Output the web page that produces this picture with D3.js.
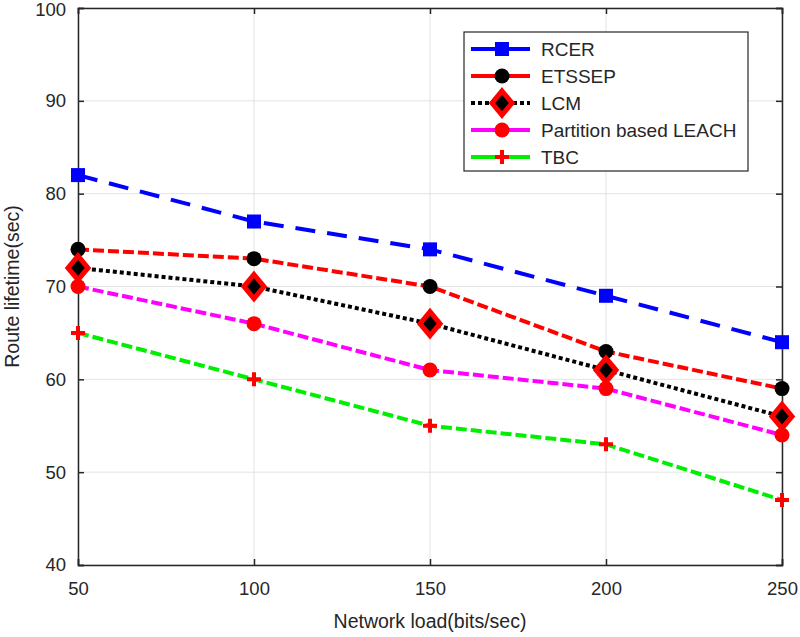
<!DOCTYPE html>
<html>
<head>
<meta charset="utf-8">
<script src="https://cdn.jsdelivr.net/npm/d3@7"></script>
<style>
  body { margin: 0; background: #fff; }
  svg text { font-family: "Liberation Sans", Arial, sans-serif; fill: #262626; }
</style>
</head>
<body>
<svg id="chart" width="800" height="637"></svg>
<script>
var loads = [50, 100, 150, 200, 250]
var x_ticks = [50, 100, 150, 200, 250]
var y_ticks = [40, 50, 60, 70, 80, 90, 100]

var rcer      = [82, 77, 74, 69, 64]
var etssep    = [74, 73, 70, 63, 59]
var lcm       = [72, 70, 66, 61, 56]
var partition = [70, 66, 61, 59, 54]
var tbc       = [65, 60, 55, 53, 47]

var series_names = ["RCER", "ETSSEP", "LCM", "Partition based LEACH", "TBC"]

var series = [
	{name: series_names[0], values: rcer,      color: "#0000ff", dash: "20,12", marker: "square",  mfill: "#0000ff"},
	{name: series_names[1], values: etssep,    color: "#ff0000", dash: "11,4",  marker: "circle",  mfill: "#000000"},
	{name: series_names[2], values: lcm,       color: "#000000", dash: "4,3",   marker: "diamond", mfill: "#ff0000"},
	{name: series_names[3], values: partition, color: "#ff00ff", dash: "11,4",  marker: "circle",  mfill: "#ff0000"},
	{name: series_names[4], values: tbc,       color: "#00ee00", dash: "11,4",  marker: "plus",    mfill: "#ff0000"}
]

var svg = d3.select("#chart"),
    p_left = 78, p_right = 782, p_top = 8, p_bottom = 565

var x_scale = d3.scaleLinear().domain([50, 250]).range([p_left, p_right]),
    y_scale = d3.scaleLinear().domain([40, 100]).range([p_bottom, p_top])

// grid
svg.append("g")
   .selectAll("line.vgrid")
   .data(x_ticks)
   .enter()
   .append("line")
   .attr("x1", d=>x_scale(d)).attr("x2", d=>x_scale(d))
   .attr("y1", p_top).attr("y2", p_bottom)
   .style("stroke", "#e3e3e3").style("stroke-width", 1)
svg.append("g")
   .selectAll("line.hgrid")
   .data(y_ticks)
   .enter()
   .append("line")
   .attr("y1", d=>y_scale(d)).attr("y2", d=>y_scale(d))
   .attr("x1", p_left).attr("x2", p_right)
   .style("stroke", "#e3e3e3").style("stroke-width", 1)

// axes
var x_axis = svg.append("g")
   .attr("transform", "translate(0," + p_bottom + ")")
   .call(d3.axisBottom(x_scale).tickValues(x_ticks).tickSize(-6).tickPadding(17))
var y_axis = svg.append("g")
   .attr("transform", "translate(" + p_left + ",0)")
   .call(d3.axisLeft(y_scale).tickValues(y_ticks).tickSize(-6).tickPadding(12))
svg.append("g")
   .attr("transform", "translate(0," + p_top + ")")
   .call(d3.axisTop(x_scale).tickValues(x_ticks).tickSize(-6).tickFormat(""))
svg.append("g")
   .attr("transform", "translate(" + p_right + ",0)")
   .call(d3.axisRight(y_scale).tickValues(y_ticks).tickSize(-6).tickFormat(""))

svg.selectAll(".domain, .tick line").style("stroke", "#262626").style("stroke-width", 1.5)
svg.selectAll(".tick text").style("font-size", "18.5px").style("fill", "#262626")
// keep the top label inside the picture
y_axis.selectAll(".tick text").filter(d=>d == 100).attr("dy", "0.42em")

// axis labels
svg.append("text")
   .attr("x", (p_left + p_right) / 2).attr("y", 628)
   .attr("text-anchor", "middle")
   .style("font-size", "19.5px")
   .text("Network load(bits/sec)")
svg.append("text")
   .attr("transform", "translate(19," + ((p_top + p_bottom) / 2) + ") rotate(-90)")
   .attr("text-anchor", "middle")
   .style("font-size", "19.5px")
   .text("Route lifetime(sec)")

function draw_marker (g, type, fill, cx, cy) {
	if (type == "square") {
		g.append("rect").attr("x", cx - 7).attr("y", cy - 7).attr("width", 14).attr("height", 14)
		 .style("fill", fill)
	} else if (type == "circle") {
		g.append("circle").attr("cx", cx).attr("cy", cy).attr("r", 7.5).style("fill", fill)
	} else if (type == "diamond") {
		g.append("path")
		 .attr("d", "M" + cx + "," + (cy - 12) + "L" + (cx + 10) + "," + cy + "L" + cx + "," + (cy + 12) + "L" + (cx - 10) + "," + cy + "Z")
		 .style("fill", "#000").style("stroke", fill).style("stroke-width", 5)
	} else if (type == "plus") {
		g.append("path")
		 .attr("d", "M" + (cx - 7) + "," + cy + "H" + (cx + 7) + "M" + cx + "," + (cy - 7) + "V" + (cy + 7))
		 .style("stroke", fill).style("stroke-width", 4)
	}
}

var line = d3.line().x((d, i)=>x_scale(loads[i])).y(d=>y_scale(d))

series.forEach(s=>{
	var g = svg.append("g")
	g.append("path")
	 .datum(s.values)
	 .attr("d", line)
	 .style("fill", "none")
	 .style("stroke", s.color)
	 .style("stroke-width", 4)
	 .style("stroke-dasharray", s.dash)
	s.values.forEach((v, i)=>draw_marker(g, s.marker, s.mfill, x_scale(loads[i]), y_scale(v)))
})

// legend
var lg = svg.append("g")
lg.append("rect")
  .attr("x", 464).attr("y", 32).attr("width", 284).attr("height", 139)
  .style("fill", "#fff").style("stroke", "#262626").style("stroke-width", 1.2)
series.forEach((s, i)=>{
	var ly = 49 + i * 27
	lg.append("line")
	  .attr("x1", 471).attr("x2", 530).attr("y1", ly).attr("y2", ly)
	  .style("stroke", s.color).style("stroke-width", 4)
	  .style("stroke-dasharray", s.marker == "diamond" ? "4,3" : "none")
	draw_marker(lg, s.marker, s.mfill, 502, ly)
	lg.append("text")
	  .attr("x", 541).attr("y", ly).attr("dy", "0.36em")
	  .style("font-size", "19px")
	  .text(s.name)
})
</script>
</body>
</html>
